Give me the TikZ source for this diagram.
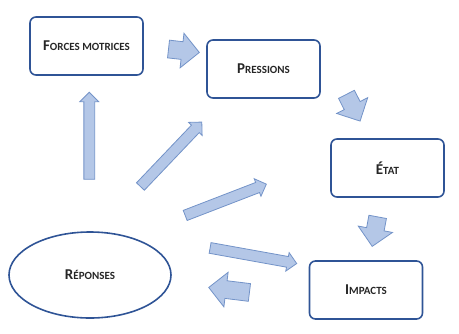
\documentclass[tikz,border=0pt]{standalone}
\usepackage{fontspec}
\setmainfont{Carlito}
\usepackage{tikz}
\usetikzlibrary{shapes.arrows,shapes.geometric}

\definecolor{bleuBord}{HTML}{2F5496}
\definecolor{bleuFond}{HTML}{B4C7E7}
\definecolor{bleuTrait}{HTML}{7393C8}
\newcommand{\pcap}[2]{{\fontsize{15}{17}\selectfont #1}{\fontsize{11}{13}\selectfont #2}}

\begin{document}
\begin{tikzpicture}[x=1pt,y=1pt]
	\tikzstyle{boite}=[draw=bleuBord, line width=1.6pt, rounded corners=6pt, minimum width=113pt, minimum height=58pt, font=\bfseries, text=black!85]
	\tikzstyle{grosse}=[single arrow, draw=bleuTrait, fill=bleuFond, line width=0.8pt, inner xsep=0pt, inner ysep=8.5pt, single arrow head extend=8.5pt]
	\tikzstyle{fine}=[grosse, inner ysep=5pt, single arrow head extend=4pt]
	\useasboundingbox (0,0) rectangle (459,-333);
	\node [boite] (forces) at (86.5,-46) {\pcap{F}{ORCES MOTRICES}};
	\node [boite] (pressions) at (263.5,-69) {\pcap{P}{RESSIONS}};
	\node [boite] (etat) at (387.5,-168) {\pcap{É}{TAT}};
	\node [boite] (impacts) at (366,-290) {\pcap{I}{MPACTS}};
	\node [boite, ellipse, minimum width=162pt, minimum height=86pt] (reponses) at (90,-275) {\pcap{R}{ÉPONSES}};
	\node [grosse, minimum height=31pt, rotate=-6.4] (fp) at (179.5,-50.25) {};
	\node [grosse, minimum height=30pt, rotate=-63] (pe) at (351.25,-103.75) {};
	\node [grosse, minimum height=30pt, rotate=-100.5] (ei) at (375.75,-227.25) {};
	\node [grosse, minimum height=41pt, rotate=173] (ir) at (233.5,-290.5) {};
	\node [fine, minimum height=87pt, rotate=90] (rf) at (89.25,-138.5) {};
	\node [fine, minimum height=89pt, rotate=46.4] (rp) at (169.25,-156.25) {};
	\node [fine, minimum height=87pt, rotate=21.1] (re) at (223.25,-200.75) {};
	\node [fine, minimum height=88pt, rotate=-10.2] (ri) at (250.75,-255.25) {};
\end{tikzpicture}
\end{document}
